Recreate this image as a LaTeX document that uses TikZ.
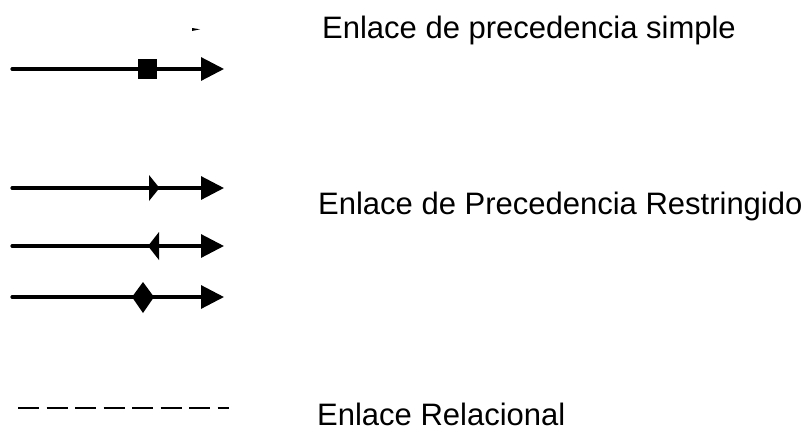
\documentclass[tikz,border=0pt]{standalone}
\usepackage{fontspec}
\setmainfont{Liberation Sans}
\usetikzlibrary{arrows.meta}
\begin{document}
\begin{tikzpicture}[x=1pt,y=-1pt,
  link/.style={line width=3.2pt, line cap=round, -{Triangle[length=23pt,width=23pt]}},
  mk/.style={fill=black, draw=none},
  lbl/.style={anchor=base west, inner sep=0pt, font=\fontsize{31}{37}\selectfont}]
\useasboundingbox (0,0) rectangle (806,429);
% labels
\node[lbl] (t1) at (322,38) {Enlace de precedencia simple};
\node[lbl] (t2) at (318,214) {Enlace de Precedencia Restringido};
\node[lbl] (t3) at (317,425) {Enlace Relacional};
% small mark
\fill (192,28) -- (200,29.3) -- (192,31) -- cycle;
% line 1: square
\coordinate (a1) at (12,69); \coordinate (b1) at (224,69);
\draw[link] (a1) -- (b1);
\fill[mk] (138,58.5) rectangle (157,79);
% line 2: right triangle
\coordinate (a2) at (12,188); \coordinate (b2) at (224,188);
\draw[link] (a2) -- (b2);
\fill[mk] (149,175) -- (159.5,188) -- (149,201) -- cycle;
% line 3: left triangle
\coordinate (a3) at (12,246); \coordinate (b3) at (224,246);
\draw[link] (a3) -- (b3);
\fill[mk] (159,232) -- (148,246) -- (159,260) -- cycle;
% line 4: diamond
\coordinate (a4) at (12,297); \coordinate (b4) at (224,297);
\draw[link] (a4) -- (b4);
\fill[mk] (132,297) -- (143,282) -- (154,297) -- (143,313) -- cycle;
% dashed line
\coordinate (a5) at (18,408); \coordinate (b5) at (229,408);
\draw[line width=2.6pt, dash pattern=on 21pt off 7.5pt] (a5) -- (b5);
\end{tikzpicture}
\end{document}
